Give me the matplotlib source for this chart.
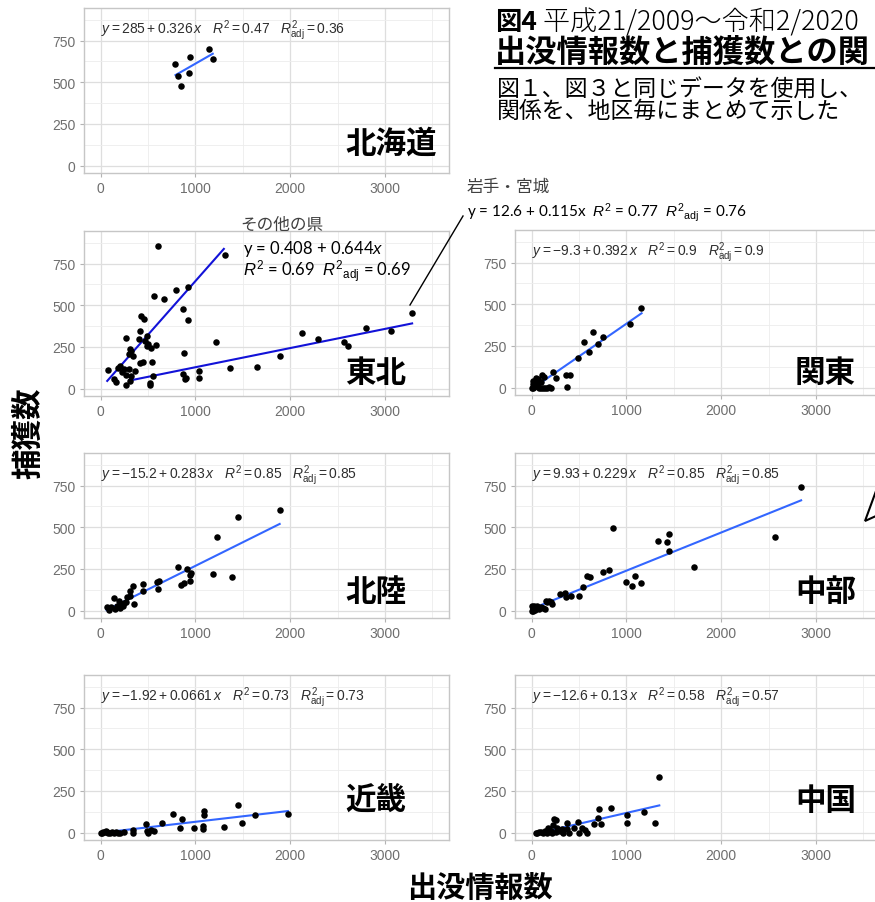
import numpy as np
import matplotlib.pyplot as plt
from matplotlib.lines import Line2D
from matplotlib.patches import Polygon

plt.rcParams['font.family'] = ['Liberation Sans', 'DejaVu Sans']
plt.rcParams['mathtext.fontset'] = 'custom'
plt.rcParams['mathtext.rm'] = 'Liberation Sans'
plt.rcParams['mathtext.it'] = 'Liberation Sans:italic'
plt.rcParams['mathtext.bf'] = 'Liberation Sans:bold'
JP = ['Noto Sans CJK JP', 'DejaVu Sans']

# data (出没情報数 x, 捕獲数 y)
hokkaido_x = [786, 821, 845, 948, 931, 1145, 1183]
hokkaido_y = [608, 536, 480, 654, 556, 700, 640]

tohoku_other_x = [77, 139, 167, 181, 209, 226, 251, 296, 272, 272, 300, 320, 306, 341, 366, 411, 411,
                  401, 425, 460, 488, 470, 505, 530, 488, 446, 564, 585, 610, 669, 794, 871, 927, 927,
                  1317, 882, 540]
tohoku_other_y = [112, 56, 40, 126, 136, 100, 116, 120, 80, 306, 206, 226, 240, 196, 106, 156, 346,
                  296, 436, 416, 256, 286, 266, 246, 316, 160, 556, 260, 856, 536, 592, 480, 612, 410,
                  800, 212, 160]
tohoku_iwmi_x = [272, 306, 320, 516, 523, 550, 871, 899, 889, 1038, 1038, 1220, 1369, 1648, 1892,
                 2125, 2292, 2564, 2606, 2798, 3066, 3286]
tohoku_iwmi_y = [20, 46, 76, 32, 24, 76, 86, 66, 56, 106, 66, 280, 126, 132, 196, 332, 296, 280,
                 256, 366, 346, 456]

kanto_x = [0, 10, 20, 30, 40, 50, 60, 70, 80, 100, 120, 140, 160, 180, 200, 15, 45, 97, 115, 132,
           70, 226, 253, 358, 410, 375, 486, 556, 601, 653, 705, 750, 1042, 1156]
kanto_y = [0, 40, 0, 5, 10, 56, 20, 30, 0, 0, 0, 0, 0, 5, 0, 20, 30, 36, 76, 66, 50, 96, 60, 76,
           76, 6, 176, 272, 212, 332, 260, 304, 382, 480]

hokuriku_x = [63, 87, 110, 139, 150, 170, 191, 200, 220, 240, 250, 270, 280, 306, 313, 341, 348,
              445, 452, 591, 609, 619, 817, 852, 877, 915, 939, 950, 939, 1183, 1224, 1391, 1454, 1889]
hokuriku_y = [20, 6, 20, 74, 10, 30, 60, 15, 40, 30, 45, 50, 80, 120, 90, 146, 40, 160, 120, 170,
              130, 180, 260, 156, 166, 250, 214, 226, 176, 220, 444, 204, 560, 604]

chubu_x = [0, 5, 10, 15, 20, 30, 40, 50, 60, 80, 100, 120, 140, 150, 160, 180, 202, 219, 295, 351,
           365, 420, 497, 542, 584, 612, 751, 820, 862, 994, 1064, 1088, 1158, 1338, 1425, 1446, 1453,
           1714, 2565, 2843]
chubu_y = [0, 30, 10, 0, 20, 30, 5, 15, 25, 10, 20, 15, 10, 60, 54, 55, 50, 40, 98, 106, 80, 90, 86,
           144, 210, 200, 234, 246, 494, 174, 150, 210, 164, 420, 414, 462, 356, 260, 440, 740]

kinki_x = [0, 20, 30, 50, 60, 69, 80, 100, 120, 140, 160, 180, 200, 243, 341, 341, 480, 487, 504,
           530, 563, 643, 765, 835, 862, 981, 1092, 1092, 1085, 1085, 1304, 1454, 1489, 1624, 1976]
kinki_y = [0, 0, 3, 5, 8, 4, 0, 0, 2, 0, 5, 0, 0, 4, 0, 16, 50, 10, 0, 16, 10, 56, 114, 30, 80, 30,
           130, 104, 40, 20, 36, 164, 60, 104, 114]

chugoku_x = [45, 60, 80, 100, 120, 140, 160, 170, 180, 200, 220, 229, 236, 253, 260, 271, 300, 323,
             330, 375, 375, 392, 444, 486, 497, 531, 559, 583, 660, 705, 715, 733, 833, 1010, 1010,
             1184, 1302, 1347]
chugoku_y = [0, 0, 2, 5, 0, 10, 0, 30, 20, 10, 0, 46, 80, 74, 5, 30, 10, 20, 0, 60, 20, 0, 30, 64,
             0, 30, 16, 0, 50, 90, 140, 50, 146, 104, 60, 126, 56, 334]

# regression: intercept, slope, x start, x end
hokkaido_fit = (285, 0.326, 790, 1183)
tohoku_other_fit = (0.408, 0.644, 70, 1300)
tohoku_iwmi_fit = (12.6, 0.115, 300, 3286)
kanto_fit = (-9.3, 0.392, 25, 1160)
hokuriku_fit = (-15.2, 0.283, 63, 1889)
chubu_fit = (9.93, 0.229, 0, 2843)
kinki_fit = (-1.92, 0.0661, 35, 1976)
chugoku_fit = (-12.6, 0.13, 120, 1347)

eq_hokkaido = r'$y = 285 + 0.326\,x$   $R^2 = 0.47$   $R^2_{\mathrm{adj}} = 0.36$'
eq_kanto = r'$y = -9.3 + 0.392\,x$   $R^2 = 0.9$   $R^2_{\mathrm{adj}} = 0.9$'
eq_hokuriku = r'$y = -15.2 + 0.283\,x$   $R^2 = 0.85$   $R^2_{\mathrm{adj}} = 0.85$'
eq_chubu = r'$y = 9.93 + 0.229\,x$   $R^2 = 0.85$   $R^2_{\mathrm{adj}} = 0.85$'
eq_kinki = r'$y = -1.92 + 0.0661\,x$   $R^2 = 0.73$   $R^2_{\mathrm{adj}} = 0.73$'
eq_chugoku = r'$y = -12.6 + 0.13\,x$   $R^2 = 0.58$   $R^2_{\mathrm{adj}} = 0.57$'

W, H = 875, 903
fig = plt.figure(figsize=(W / 100, H / 100), dpi=100)
fig.patch.set_facecolor('white')


def make_ax(left_px, bottom_px):
    ax = fig.add_axes([left_px / W, 1 - bottom_px / H, 365 / W, 165 / H])
    ax.set_xlim(-175, 3675)
    ax.set_ylim(-45, 945)
    ax.set_xticks([0, 1000, 2000, 3000])
    ax.set_xticks([500, 1500, 2500, 3500], minor=True)
    ax.set_yticks([0, 250, 500, 750])
    ax.set_yticks([125, 375, 625, 875], minor=True)
    ax.grid(which='major', color='#DEDEDE', lw=0.9)
    ax.grid(which='minor', color='#EDEDED', lw=0.6)
    ax.set_axisbelow(True)
    ax.tick_params(which='major', length=3, color='#B3B3B3', labelcolor='#6E6E6E',
                   labelsize=10, pad=3)
    ax.tick_params(which='minor', length=0)
    for s in ax.spines.values():
        s.set_color('#C6C6C6')
        s.set_linewidth(1.0)
    return ax


def fit_line(ax, fit, color='#3366FF'):
    a, b, x0, x1 = fit
    xl = np.array([x0, x1])
    ax.plot(xl, a + b * xl, color=color, lw=1.5, zorder=2)


def dots(ax, x, y):
    ax.scatter(x, y, s=22, color='black', zorder=3, linewidths=0)


def eq(ax, s):
    ax.text(0.047, 0.87, s, transform=ax.transAxes, fontsize=10, color='#2E2E2E',
            va='center', ha='left')


LX, RX = 84, 515

ax = make_ax(LX, 174)
dots(ax, hokkaido_x, hokkaido_y)
fit_line(ax, hokkaido_fit)
eq(ax, eq_hokkaido)
ax_top = ax

ax = make_ax(LX, 397)
dots(ax, tohoku_other_x, tohoku_other_y)
dots(ax, tohoku_iwmi_x, tohoku_iwmi_y)
fit_line(ax, tohoku_other_fit, color='#1212D8')
fit_line(ax, tohoku_iwmi_fit, color='#1212D8')

ax = make_ax(RX, 396)
dots(ax, kanto_x, kanto_y)
fit_line(ax, kanto_fit)
eq(ax, eq_kanto)

ax = make_ax(LX, 619)
dots(ax, hokuriku_x, hokuriku_y)
fit_line(ax, hokuriku_fit)
eq(ax, eq_hokuriku)

ax = make_ax(RX, 619)
dots(ax, chubu_x, chubu_y)
fit_line(ax, chubu_fit)
eq(ax, eq_chubu)

ax = make_ax(LX, 841)
dots(ax, kinki_x, kinki_y)
fit_line(ax, kinki_fit)
eq(ax, eq_kinki)

ax = make_ax(RX, 841)
dots(ax, chugoku_x, chugoku_y)
fit_line(ax, chugoku_fit)
eq(ax, eq_chugoku)


def ftext(xp, yp, s, **kw):
    return fig.text(xp / W, 1 - yp / H, s, **kw)


# region names
for name, xp, yp in [('北海道', 345, 144), ('東北', 345, 373), ('関東', 795, 373),
                     ('北陸', 345, 592), ('中部', 795, 592), ('近畿', 345, 800), ('中国', 795, 801)]:
    ftext(xp, yp, name, family=JP, fontsize=22, fontweight='bold', ha='left', va='center')

# axis titles
ftext(28, 433, '捕獲数', family=JP, fontsize=22, fontweight='bold', rotation=90,
      ha='center', va='center')
ftext(480, 888, '出没情報数', family=JP, fontsize=21, fontweight='bold', ha='center', va='center')

# title block
t1 = ftext(495, 22, '図4', family=JP, fontsize=19, fontweight='bold', ha='left', va='center')
ax_top.annotate(' 平成21/2009〜令和2/2020', xy=(1, 0.5), xycoords=t1, va='center', ha='left',
                family=JP, fontsize=19.5, fontweight='light', annotation_clip=False)
ftext(495, 53, '出没情報数と捕獲数との関', family=JP, fontsize=22.5, fontweight='bold',
      ha='left', va='center')
fig.add_artist(Line2D([495 / W, 1.0], [1 - 69 / H, 1 - 69 / H], color='black', lw=1.6))
ftext(497, 90, '図１、図３と同じデータを使用し、', family=JP, fontsize=16.5, ha='left', va='center')
ftext(497, 111, '関係を、地区毎にまとめて示した', family=JP, fontsize=16.5, ha='left', va='center')

# Tohoku annotations
ftext(240, 225, 'その他の県', family=JP, fontsize=12, color='#404040', ha='left', va='center')
ftext(243, 249, r'y = 0.408 + 0.644$\it{x}$', family=['Lato', 'DejaVu Sans'], fontsize=12,
      ha='left', va='center')
ftext(243, 272, r'$R^{2}$ = 0.69  $R^{2}{}_{\mathrm{adj}}$ = 0.69', family=['Lato', 'DejaVu Sans'],
      fontsize=12, ha='left', va='center')
ftext(467, 187, '岩手・宮城', family=JP, fontsize=12, color='#404040', ha='left', va='center')
ftext(467, 213, r'y = 12.6 + 0.115x  $R^{2}$ = 0.77  $R^{2}{}_{\mathrm{adj}}$ = 0.76',
      family=['Lato', 'DejaVu Sans'], fontsize=11, ha='left', va='center')
fig.add_artist(Line2D([410 / W, 463 / W], [1 - 306 / H, 1 - 217 / H], color='black', lw=1.0))

# cut-off callout at the right edge of 中部
fig.add_artist(Polygon([(876 / W, 1 - 492 / H), (865 / W, 1 - 522 / H), (876 / W, 1 - 517 / H)],
                       closed=False, fill=True, facecolor='white', edgecolor='black', lw=1.5))

fig.savefig('out.png', dpi=100)
